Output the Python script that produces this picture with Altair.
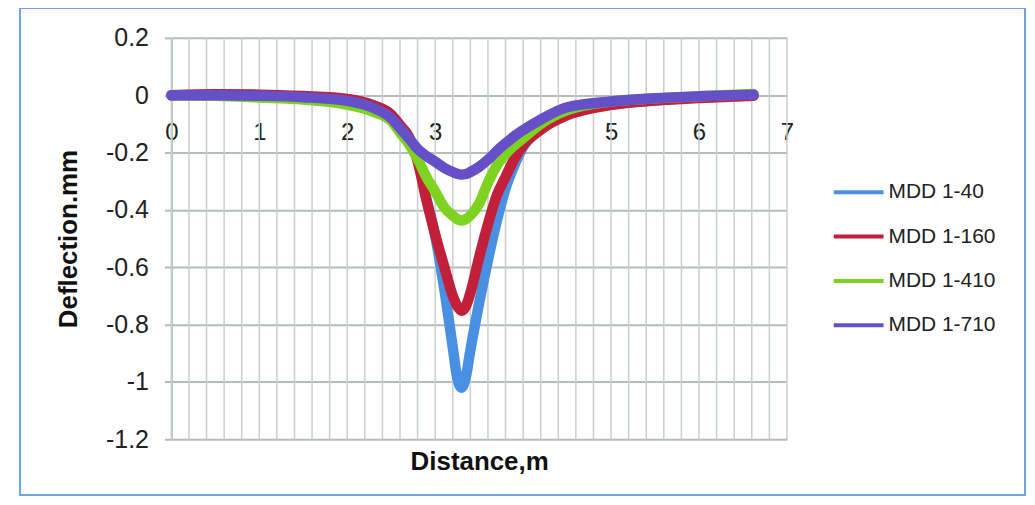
import altair as alt
import pandas as pd

# ---------------- data ----------------
distance = [0, 0.5, 1.0, 1.5, 2.0, 2.3, 2.5, 2.6, 2.7, 2.8, 2.9, 3.0, 3.1, 3.2, 3.25,
            3.3, 3.35, 3.4, 3.5, 3.6, 3.7, 3.8, 3.9, 4.0, 4.2, 4.5, 5.0, 5.5, 6.0, 6.62]

series_names = ["MDD 1-40", "MDD 1-160", "MDD 1-410", "MDD 1-710"]
series_colors = ["#4A90E2", "#C2203A", "#7ED321", "#6650C8"]

mdd_40 = [0.0, 0.0, -0.002, -0.006, -0.015, -0.035, -0.068, -0.105, -0.145, -0.22,
          -0.36, -0.49, -0.67, -0.88, -0.985, -1.02, -0.98, -0.89, -0.725, -0.575,
          -0.44, -0.325, -0.245, -0.18, -0.12, -0.065, -0.033, -0.018, -0.008, 0.0]
mdd_160 = [0.0, 0.003, 0.002, -0.003, -0.013, -0.036, -0.068, -0.105, -0.145, -0.23,
           -0.365, -0.486, -0.595, -0.70, -0.735, -0.752, -0.735, -0.69, -0.565, -0.45,
           -0.35, -0.285, -0.222, -0.175, -0.12, -0.07, -0.034, -0.019, -0.01, -0.002]
mdd_410 = [0.0, -0.002, -0.008, -0.015, -0.033, -0.058, -0.09, -0.13, -0.17, -0.222,
           -0.285, -0.336, -0.39, -0.42, -0.432, -0.437, -0.432, -0.42, -0.378, -0.305,
           -0.245, -0.205, -0.175, -0.15, -0.1, -0.052, -0.022, -0.011, -0.004, 0.004]
mdd_710 = [0.0, 0.0, -0.002, -0.007, -0.02, -0.045, -0.08, -0.115, -0.15, -0.187,
           -0.212, -0.232, -0.253, -0.268, -0.274, -0.277, -0.275, -0.268, -0.25, -0.225,
           -0.195, -0.168, -0.143, -0.122, -0.085, -0.042, -0.022, -0.011, -0.004, 0.002]

y_ticks = [0.2, 0, -0.2, -0.4, -0.6, -0.8, -1, -1.2]
x_labels = [0, 1, 2, 3, 4, 5, 6, 7]
x_grid = [round(i * 0.2, 1) for i in range(36)]

rows = []
for name, vals in zip(series_names, [mdd_40, mdd_160, mdd_410, mdd_710]):
    for d, v in zip(distance, vals):
        rows.append({"series": name, "distance": d, "deflection": v})
df = pd.DataFrame(rows)
grid_df = pd.DataFrame({"g": x_grid})

# ---------------- styling ----------------
FONT = "Liberation Sans"
W, H = 618, 403
zero_offset = -(H - H * 0.2 / 1.4)

xscale = alt.Scale(domain=[0, 7], nice=False, zero=False)
yscale = alt.Scale(domain=[-1.2, 0.2], nice=False, zero=False)

x_axis = alt.Axis(
    values=x_labels, grid=False, domain=False, ticks=False,
    offset=zero_offset, labelPadding=25, labelFontSize=24, labelFont=FONT,
    labelColor="#222222", labelFlush=False, labelOverlap=False,
    title="Distance,m", titleFont=FONT, titleFontSize=26, titleFontWeight="bold",
    titleColor="#111111", titleY=368, titleBaseline="middle",
)
y_axis = alt.Axis(
    values=y_ticks, labelExpr="'' + datum.value",
    grid=True, gridColor="#B4BCBC", gridWidth=2,
    domain=True, domainColor="#B4BCBC", domainWidth=2,
    ticks=True, tickColor="#B4BCBC", tickSize=7, tickWidth=2,
    labelPadding=16, labelFontSize=25, labelFont=FONT, labelColor="#222222",
    labelFlush=False,
    title="Deflection.mm", titleFont=FONT, titleFontSize=26, titleFontWeight="bold",
    titleColor="#111111", titleX=-103, titleY=H / 2, titleBaseline="middle",
    titleAlign="center", titleAngle=-90,
)

legend = alt.Legend(
    title=None, orient="none", legendX=668, legendY=133,
    symbolType="M-1.25,0H1.25", symbolSize=1600, symbolStrokeWidth=4,
    labelFont=FONT, labelFontSize=21, labelColor="#222222", labelOffset=8,
    rowPadding=12.5, padding=0,
)

vgrid = alt.Chart(grid_df).mark_rule(color="#C8CFCF", strokeWidth=1.5).encode(
    x=alt.X("g:Q", scale=xscale, axis=x_axis)
)

base = alt.Chart(df).mark_line(strokeWidth=10.5, interpolate="monotone",
                               strokeCap="round", strokeJoin="round").encode(
    x=alt.X("distance:Q", scale=xscale, axis=x_axis),
    y=alt.Y("deflection:Q", scale=yscale, axis=y_axis),
    color=alt.Color("series:N", scale=alt.Scale(domain=series_names, range=series_colors),
                    legend=legend),
)
line_layers = [base.transform_filter(alt.datum.series == s) for s in series_names]

border = alt.Chart(alt.Data(values=[{}])).mark_rect(
    filled=False, stroke="#6FA3E8", strokeWidth=2
).encode(
    x=alt.value(-152), x2=alt.value(857), y=alt.value(-30), y2=alt.value(459)
)

chart = alt.layer(vgrid, *line_layers, border).properties(
    width=W, height=H,
    autosize=alt.AutoSizeParams(type="none"),
    padding={"left": 164, "top": 29, "right": 241, "bottom": 57},
    background="white",
).configure_view(strokeWidth=0)

chart.save("out.html", embed_options={"renderer": "svg", "actions": False})
